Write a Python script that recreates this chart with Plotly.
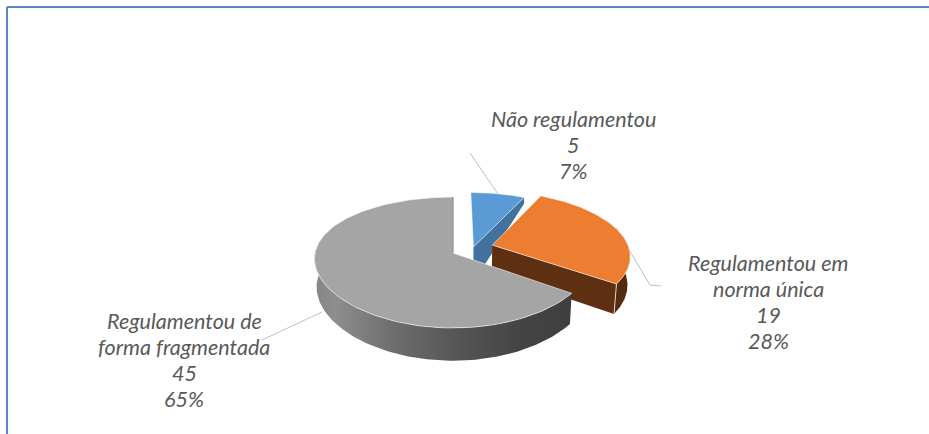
import math
import plotly.graph_objects as go

# Data
categories = ["Não regulamentou", "Regulamentou em norma única", "Regulamentou de forma fragmentada"]
label_lines = [["Não regulamentou"], ["Regulamentou em", "norma única"], ["Regulamentou de", "forma fragmentada"]]
values = [5, 19, 45]

# Styles
top_colors = ["#5B9BD5", "#ED7D31", "#A5A5A5"]
wall_colors = ["#41719C", "#5E2F10", "#5A5A5A"]
label_pos = [(573, 145), (768, 302), (184, 360)]
explode = [(0.15, 0.094), (0.29, 0.125), (0.0, 0.0)]
x_persp = [0.145, 0.145, 0.087]
CX, CY, RX, RY, P, DEPTH = 453, 253, 138, 64.1, 0.145, 28
TEXT = "#595959"
LINE_GAP = 26.3


def proj(u, v, drop=False, px=P):
    w = 1 + P * v
    x = RX * u / (1 + px * v)
    y = -RY * v / w
    if drop:
        return CX + x * 0.985, CY + y + DEPTH / w
    return CX + x, CY + y


def arc(i, t0, t1, n=120, drop=False):
    u0, v0 = explode[i]
    pts = []
    for k in range(n + 1):
        t = math.radians(t0 + (t1 - t0) * k / n)
        pts.append(proj(u0 + math.sin(t), v0 + math.cos(t), drop, x_persp[i]))
    return pts


total = sum(values)
angles = [0]
for val in values:
    angles.append(angles[-1] + 360 * val / total)

fig = go.Figure()


def poly(pts, color=None, line="rgba(255,255,255,0)", width=0, grad=None):
    kw = dict(fillcolor=color) if grad is None else dict(fillgradient=grad)
    fig.add_trace(go.Scatter(
        x=[p[0] for p in pts], y=[p[1] for p in pts], mode="lines", fill="toself",
        line=dict(color=line, width=width), hoverinfo="skip", showlegend=False, **kw))


def leader(pts):
    fig.add_trace(go.Scatter(x=[p[0] for p in pts], y=[p[1] for p in pts], mode="lines",
                             line=dict(color="#BFBFBF", width=1), hoverinfo="skip", showlegend=False))


# leader lines
leader([(470, 153), (498, 194)])
leader([(616, 228), (650, 285), (661, 286)])
leader([(322, 312), (262, 340)])

# blue slice
a0, a1 = angles[0], angles[1]
apex = proj(*explode[0])
corner = arc(0, a1, a1, 1)[0]
poly([apex, corner, (corner[0], corner[1] + 6), (apex[0] + 2, apex[1] + 32), (apex[0], apex[1] + 32)], wall_colors[0])
poly([apex] + arc(0, a0, a1) + [apex], top_colors[0], "rgba(255,255,255,0.6)", 0.8)

# orange slice
a0, a1 = angles[1], angles[2]
apex = proj(*explode[1])
apex_d = proj(*explode[1], drop=True)
corner = arc(1, a1, a1, 1)[0]
corner_d = arc(1, a1, a1, 1, drop=True)[0]
poly(arc(1, a0 + 40, a1) + arc(1, a0 + 40, a1, drop=True)[::-1], "#552A0E")
poly([apex, corner, corner_d, apex_d], wall_colors[1])
fig.add_trace(go.Scatter(x=[corner[0], corner_d[0]], y=[corner[1], corner_d[1]], mode="lines",
                         line=dict(color="rgba(255,255,255,0.75)", width=1), hoverinfo="skip", showlegend=False))
poly([apex] + arc(1, a0, a1) + [apex], top_colors[1], "rgba(255,255,255,0.7)", 0.8)

# gray slice
a0, a1 = angles[2], angles[3]
apex = proj(*explode[2])
side = arc(2, a0, 275) + arc(2, a0, 275, drop=True)[::-1]
poly(side, grad=dict(type="horizontal", colorscale=[
    [0, "#858585"], [0.08, "#8E8E8E"], [0.3, "#6E6E6E"], [0.55, "#565656"], [0.8, "#444444"], [1, "#3F3F3F"]]))
poly([apex] + arc(2, a0, a1) + [apex], top_colors[2], "rgba(255,255,255,0.7)", 0.8)
top = arc(2, 360, 360, 1)[0]
fig.add_trace(go.Scatter(x=[top[0], apex[0]], y=[top[1], apex[1]], mode="lines",
                         line=dict(color="#777777", width=1), hoverinfo="skip", showlegend=False))

# labels: one annotation per line so the leading matches
for lines, val, (lx, ly) in zip(label_lines, values, label_pos):
    rows = lines + [str(val), f"{round(100 * val / total)}%"]
    for k, row in enumerate(rows):
        fig.add_annotation(x=lx, y=ly + (k - (len(rows) - 1) / 2) * LINE_GAP, text=f"<i>{row}</i>",
                           showarrow=False, xanchor="center", yanchor="middle",
                           font=dict(family="Lato", size=21.5, color=TEXT))

fig.update_layout(
    width=929, height=434, margin=dict(l=0, r=0, t=0, b=0),
    paper_bgcolor="white", plot_bgcolor="white", showlegend=False,
    xaxis=dict(range=[0, 929], visible=False, fixedrange=True),
    yaxis=dict(range=[434, 0], visible=False, fixedrange=True),
    shapes=[
        dict(type="line", x0=7, y0=7, x1=929, y1=7, line=dict(color="#5B84C9", width=2)),
        dict(type="line", x0=7, y0=7, x1=7, y1=434, line=dict(color="#5B84C9", width=2)),
    ],
)
fig.write_html("out.html", config={"displayModeBar": False},
               post_script="document.body.style.margin='0';document.documentElement.style.overflow='hidden';")
